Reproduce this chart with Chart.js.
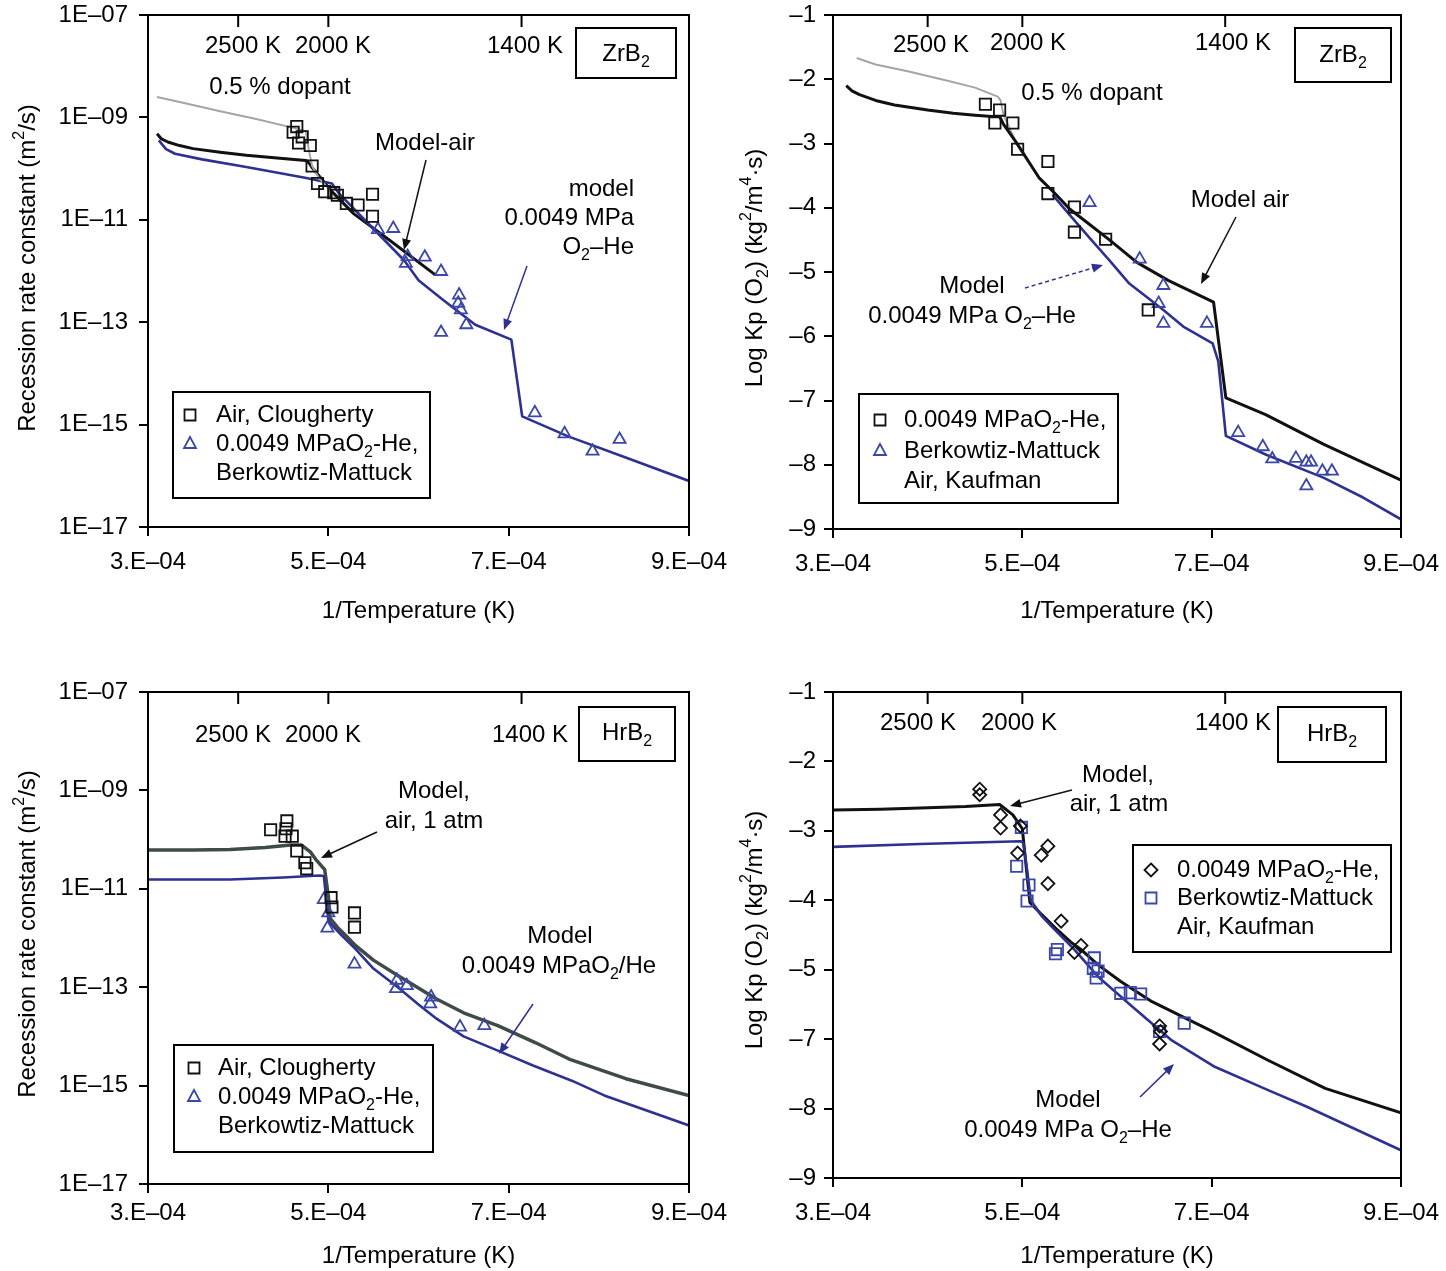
<!DOCTYPE html>
<html>
<head>
<meta charset="utf-8">
<script src="https://cdn.jsdelivr.net/npm/chart.js@4.4.1/dist/chart.umd.min.js"></script>
<style>
  body { margin: 0; background: #fff; width: 1446px; height: 1271px; position: relative; overflow: hidden; }
  canvas { position: absolute; }
</style>
</head>
<body>
<canvas id="tl" width="760" height="640" style="left:0;top:0;width:760px;height:640px"></canvas>
<canvas id="bl" width="760" height="631" style="left:0;top:640px;width:760px;height:631px"></canvas>
<canvas id="tr" width="723" height="640" style="left:723px;top:0;width:723px;height:640px"></canvas>
<canvas id="br" width="723" height="631" style="left:723px;top:640px;width:723px;height:631px"></canvas>
<script>
// x values are 1/T in units of 1e-4 1/K
const xTicks = [3, 5, 7, 9];
const tempMarks = [2500, 2000, 1400];
const logTicks = [-17, -15, -13, -11, -9, -7];
const kpTicksTop = [-9, -8, -7, -6, -5, -4, -3, -2, -1];
// the lower Kp axis is printed without "-6": eight evenly spaced labels
const kpTicksBottom = [-1, -2, -3, -4, -5, -6, -7, -8];
const kpLabelsBottom = ['–1', '–2', '–3', '–4', '–5', '–7', '–8', '–9'];

// ZrB2 recession rate (log10 m2/s)
const zrRateAirX = [3.10, 3.15, 3.22, 3.35, 3.50, 3.80, 4.09, 4.40, 4.75, 4.79, 4.82, 5.04, 5.28, 5.68, 6.19];
const zrRateAirLog = [-9.32, -9.42, -9.48, -9.55, -9.61, -9.68, -9.74, -9.79, -9.84, -9.90, -9.98, -10.45, -10.88, -11.40, -12.08];
const zrRateDopX = [3.10, 3.40, 3.80, 4.20, 4.60, 4.75, 4.78, 4.82, 4.90, 5.04];
const zrRateDopLog = [-8.60, -8.72, -8.88, -9.03, -9.20, -9.27, -9.60, -9.95, -10.20, -10.45];
const zrRateHeX = [3.12, 3.20, 3.30, 3.60, 4.09, 4.50, 4.77, 5.04, 5.12, 5.48, 5.84, 6.00, 6.27, 6.63, 7.03, 7.15, 7.66, 8.26, 9.00];
const zrRateHeLog = [-9.45, -9.62, -9.71, -9.82, -9.97, -10.10, -10.19, -10.29, -10.49, -11.14, -11.79, -12.18, -12.56, -13.05, -13.34, -14.84, -15.23, -15.62, -16.10];
const zrRateCloughX = [4.65, 4.61, 4.71, 4.67, 4.80, 4.82, 4.88, 4.96, 5.06, 5.10, 5.20, 5.33, 5.49, 5.49];
const zrRateCloughLog = [-9.18, -9.29, -9.38, -9.50, -9.55, -9.95, -10.29, -10.45, -10.47, -10.52, -10.68, -10.71, -10.50, -10.93];
const zrRateBmX = [5.55, 5.72, 5.88, 5.86, 6.07, 6.25, 6.45, 6.44, 6.47, 6.53, 6.25, 7.29, 7.62, 7.93, 8.23];
const zrRateBmLog = [-11.19, -11.17, -11.72, -11.85, -11.73, -12.01, -12.47, -12.63, -12.76, -13.05, -13.20, -14.77, -15.18, -15.52, -15.29];

// ZrB2 log Kp
const zrKpAirX = [3.14, 3.20, 3.28, 3.45, 3.65, 4.00, 4.27, 4.50, 4.68, 4.76, 4.80, 4.93, 5.18, 5.34, 5.50, 5.65, 5.92, 6.21, 6.54, 7.02, 7.15, 7.57, 8.18, 9.00];
const zrKpAirY = [-2.10, -2.18, -2.24, -2.33, -2.40, -2.48, -2.53, -2.56, -2.58, -2.58, -2.70, -2.97, -3.54, -3.77, -4.02, -4.19, -4.50, -4.85, -5.13, -5.47, -6.96, -7.22, -7.68, -8.24];
const zrKpDopX = [3.25, 3.45, 3.80, 4.20, 4.50, 4.74, 4.77, 4.80, 4.93, 5.18, 5.34];
const zrKpDopY = [-1.67, -1.77, -1.88, -2.02, -2.13, -2.27, -2.33, -2.55, -2.97, -3.54, -3.77];
const zrKpHeX = [5.32, 5.50, 5.71, 5.92, 6.13, 6.49, 6.70, 7.01, 7.07, 7.15, 7.57, 8.18, 8.60, 9.00];
const zrKpHeY = [-3.80, -4.11, -4.47, -4.82, -5.18, -5.59, -5.85, -6.11, -6.39, -7.55, -7.84, -8.20, -8.51, -8.85];
const zrKpSqX = [4.61, 4.76, 4.71, 4.90, 4.95, 5.27, 5.27, 5.55, 5.55, 5.88, 6.33];
const zrKpSqY = [-2.39, -2.48, -2.68, -2.68, -3.09, -3.28, -3.78, -3.99, -4.38, -4.49, -5.59];
const zrKpTriX = [5.71, 6.24, 6.49, 6.44, 6.49, 6.95, 7.28, 7.54, 7.64, 7.89, 8.00, 8.05, 8.00, 8.17, 8.27];
const zrKpTriY = [-3.92, -4.80, -5.21, -5.49, -5.80, -5.80, -7.50, -7.72, -7.91, -7.90, -7.96, -7.96, -8.33, -8.10, -8.10];

// HfB2 recession rate (log10 m2/s)
const hfRateAirX = [3.00, 3.50, 3.91, 4.30, 4.58, 4.70, 4.80, 4.86, 4.96, 5.00, 5.02, 5.10, 5.21, 5.30, 5.50, 5.77, 6.20, 6.50, 6.88, 7.30, 7.67, 8.30, 9.00];
const hfRateAirLog = [-10.21, -10.21, -10.20, -10.16, -10.11, -10.11, -10.25, -10.40, -10.61, -11.15, -11.60, -11.78, -11.98, -12.15, -12.45, -12.76, -13.24, -13.52, -13.78, -14.13, -14.46, -14.86, -15.20];
const hfRateHeX = [3.00, 3.91, 4.50, 4.90, 4.95, 4.97, 5.00, 5.02, 5.15, 5.30, 5.50, 5.77, 6.00, 6.20, 6.50, 6.88, 7.27, 7.70, 8.06, 9.00];
const hfRateHeLog = [-10.81, -10.81, -10.77, -10.73, -10.74, -11.08, -11.63, -11.70, -11.95, -12.22, -12.62, -13.00, -13.35, -13.64, -14.00, -14.29, -14.59, -14.90, -15.20, -15.81];
const hfRateCloughX = [4.36, 4.54, 4.53, 4.52, 4.60, 4.65, 4.74, 4.76, 5.03, 5.04, 5.29, 5.29];
const hfRateCloughLog = [-9.80, -9.62, -9.78, -9.93, -9.93, -10.23, -10.47, -10.59, -11.18, -11.37, -11.49, -11.78];
const hfRateBmX = [4.95, 5.00, 4.99, 5.29, 5.76, 5.75, 5.87, 6.14, 6.13, 6.46, 6.73];
const hfRateBmLog = [-11.22, -11.49, -11.80, -12.53, -12.86, -13.03, -12.97, -13.20, -13.34, -13.81, -13.78];

// HfB2 log Kp (positions on the printed axis)
const hfKpAirX = [3.00, 3.50, 3.92, 4.40, 4.76, 4.90, 5.00, 5.04, 5.08, 5.20, 5.35, 5.51, 5.63, 5.80, 6.04, 6.37, 6.98, 7.59, 8.20, 9.00];
const hfKpAirY = [-2.70, -2.69, -2.67, -2.65, -2.62, -2.77, -2.97, -3.51, -4.03, -4.20, -4.40, -4.60, -4.72, -4.93, -5.17, -5.46, -5.87, -6.30, -6.71, -7.06];
const hfKpHeX = [3.00, 3.92, 4.98, 5.01, 5.05, 5.09, 5.20, 5.31, 5.55, 5.80, 6.16, 6.57, 7.02, 7.59, 8.00, 9.00];
const hfKpHeY = [-3.23, -3.19, -3.15, -3.17, -3.56, -4.00, -4.22, -4.38, -4.71, -5.10, -5.53, -6.01, -6.39, -6.73, -6.97, -7.60];
const hfKpDiaX = [4.55, 4.55, 4.77, 4.77, 4.98, 4.95, 5.20, 5.27, 5.27, 5.41, 5.62, 5.55, 6.45, 6.46, 6.45];
const hfKpDiaY = [-2.40, -2.48, -2.77, -2.96, -2.93, -3.32, -3.35, -3.22, -3.76, -4.30, -4.65, -4.75, -5.81, -5.89, -6.07];
const hfKpSqX = [4.99, 4.94, 5.07, 5.05, 5.37, 5.35, 5.76, 5.75, 5.80, 5.78, 6.04, 6.14, 6.25, 6.45, 6.71];
const hfKpSqY = [-2.95, -3.51, -3.78, -4.01, -4.71, -4.77, -4.83, -4.98, -5.02, -5.12, -5.34, -5.33, -5.35, -5.89, -5.77];

const FONT = '"Liberation Sans", Arial, Helvetica, sans-serif';
const BLACK = '#111111';
const BLUE = '#2d3190';
const BLUE_MK = '#3b47a8';
const GRAY = '#a5a5a5';
const SLATE = '#3f4b47';

const logPts = (xs, es) => xs.map((x, i) => ({ x: x, y: Math.pow(10, es[i]) }));
const linPts = (xs, ys) => xs.map((x, i) => ({ x: x, y: ys[i] }));
const line = (data, color, width) => ({
  data, showLine: true, borderColor: color, borderWidth: width, pointRadius: 0,
  fill: false, tension: 0, borderJoinStyle: 'round', order: 2
});
const marks = (data, style, color, r) => ({
  data, showLine: false, pointStyle: style, pointRadius: r, pointHoverRadius: r,
  pointBorderColor: color, pointBackgroundColor: 'rgba(0,0,0,0)', pointBorderWidth: 1.8, order: 1
});

function drawRich(ctx, str, x, y, align, color, size) {
  size = size || 24;
  const sm = Math.round(size * 0.68);
  const seg = str.split(/([_^]\{[^}]*\})/).filter(s => s.length).map(p => {
    if (p.startsWith('_{')) return { t: p.slice(2, -1), f: sm, dy: size * 0.36 };
    if (p.startsWith('^{')) return { t: p.slice(2, -1), f: sm, dy: -size * 0.36 };
    return { t: p, f: size, dy: 0 };
  });
  let w = 0;
  seg.forEach(s => { ctx.font = s.f + 'px ' + FONT; s.w = ctx.measureText(s.t).width; w += s.w; });
  let cx = align === 'center' ? x - w / 2 : align === 'right' ? x - w : x;
  ctx.fillStyle = color || '#000';
  ctx.textAlign = 'left';
  ctx.textBaseline = 'middle';
  seg.forEach(s => { ctx.font = s.f + 'px ' + FONT; ctx.fillText(s.t, cx, y + s.dy); cx += s.w; });
}

function drawArrow(ctx, a, color, dash) {
  const [x0, y0, x1, y1] = a;
  const ang = Math.atan2(y1 - y0, x1 - x0), L = 11, W = 4.5;
  ctx.strokeStyle = color; ctx.fillStyle = color; ctx.lineWidth = 1.5;
  ctx.setLineDash(dash || []);
  ctx.beginPath();
  ctx.moveTo(x0, y0);
  ctx.lineTo(x1 - 0.8 * L * Math.cos(ang), y1 - 0.8 * L * Math.sin(ang));
  ctx.stroke();
  ctx.setLineDash([]);
  ctx.beginPath();
  ctx.moveTo(x1, y1);
  ctx.lineTo(x1 - L * Math.cos(ang) + W * Math.sin(ang), y1 - L * Math.sin(ang) - W * Math.cos(ang));
  ctx.lineTo(x1 - L * Math.cos(ang) - W * Math.sin(ang), y1 - L * Math.sin(ang) + W * Math.cos(ang));
  ctx.closePath();
  ctx.fill();
}

function drawMarker(ctx, style, color, x, y) {
  ctx.strokeStyle = color; ctx.lineWidth = 1.8;
  ctx.beginPath();
  if (style === 'rect') ctx.rect(x - 5.5, y - 5.5, 11, 11);
  if (style === 'triangle') { ctx.moveTo(x, y - 7); ctx.lineTo(x + 6, y + 4); ctx.lineTo(x - 6, y + 4); ctx.closePath(); }
  if (style === 'rectRot') { ctx.moveTo(x, y - 6.5); ctx.lineTo(x + 6.5, y); ctx.lineTo(x, y + 6.5); ctx.lineTo(x - 6.5, y); ctx.closePath(); }
  ctx.stroke();
}

// decorations in page pixels, shifted into each canvas
function decor(spec) {
  return {
    id: 'decor',
    afterDraw(chart) {
      const ctx = chart.ctx, ca = chart.chartArea, ox = spec.ox, oy = spec.oy;
      ctx.save();
      ctx.strokeStyle = '#000'; ctx.lineWidth = 2;
      ctx.strokeRect(ca.left, ca.top, ca.right - ca.left, ca.bottom - ca.top);
      tempMarks.forEach(T => {
        const px = chart.scales.x.getPixelForValue(1e4 / T);
        ctx.beginPath(); ctx.moveTo(px, ca.top); ctx.lineTo(px, ca.top + 12); ctx.stroke();
      });
      spec.boxes.forEach(b => {
        ctx.strokeStyle = '#000'; ctx.lineWidth = 2;
        ctx.strokeRect(b[0] - ox, b[1] - oy, b[2] - b[0], b[3] - b[1]);
      });
      spec.texts.forEach(t => drawRich(ctx, t[0], t[1] - ox, t[2] - oy, t[3] || 'center', '#000'));
      spec.arrows.forEach(a => drawArrow(ctx, [a[0] - ox, a[1] - oy, a[2] - ox, a[3] - oy], a[4] || BLACK, a[5]));
      const lg = spec.legend;
      ctx.strokeStyle = '#000'; ctx.lineWidth = 2;
      ctx.strokeRect(lg.box[0] - ox, lg.box[1] - oy, lg.box[2] - lg.box[0], lg.box[3] - lg.box[1]);
      lg.rows.forEach((r, i) => {
        const yy = lg.ys[i] - oy;
        if (r[0]) drawMarker(ctx, r[0], r[1], lg.mx - ox, yy);
        drawRich(ctx, r[2], lg.tx - ox, yy, 'left', '#000');
      });
      ctx.save();
      ctx.translate(spec.ytitle[1] - ox, spec.ytitle[2] - oy);
      ctx.rotate(-Math.PI / 2);
      drawRich(ctx, spec.ytitle[0], 0, 0, 'center', '#000');
      ctx.restore();
      ctx.restore();
    }
  };
}

const tickFont = { size: 24, family: FONT };
const gridOpts = { display: true, drawOnChartArea: false, drawTicks: true, tickLength: 9, color: '#000', lineWidth: 2 };
const borderOpts = { display: true, color: '#000', width: 2 };

function logAxis(w, pad) {
  return {
    type: 'logarithmic', min: 1e-17, max: 1e-7,
    afterBuildTicks: s => { s.ticks = logTicks.map(e => ({ value: Math.pow(10, e) })); },
    afterFit: s => { s.width = w; s.paddingTop = 0; s.paddingBottom = 0; },
    ticks: { font: tickFont, color: '#000', padding: pad, autoSkip: false,
      callback: v => '1E–' + String(Math.round(-Math.log10(v))).padStart(2, '0') },
    grid: gridOpts, border: borderOpts
  };
}
function kpAxis(w, pad, ticks, labels, min) {
  return {
    type: 'linear', min: min, max: -1,
    afterBuildTicks: s => { s.ticks = ticks.map(v => ({ value: v })); },
    afterFit: s => { s.width = w; s.paddingTop = 0; s.paddingBottom = 0; },
    ticks: { font: tickFont, color: '#000', padding: pad, autoSkip: false,
      callback: v => labels ? labels[ticks.indexOf(v)] : '–' + (-v) },
    grid: gridOpts, border: borderOpts
  };
}

function panel(id, spec) {
  new Chart(document.getElementById(id), {
    type: 'scatter',
    data: { datasets: spec.datasets },
    options: {
      responsive: false, animation: false, devicePixelRatio: 1,
      layout: { padding: { top: spec.padTop, right: spec.padRight, left: 0, bottom: 0 } },
      plugins: { legend: { display: false }, tooltip: { enabled: false } },
      scales: {
        x: {
          type: 'linear', min: 3, max: 9,
          afterBuildTicks: s => { s.ticks = xTicks.map(v => ({ value: v })); },
          afterFit: s => { s.height = spec.xh; s.paddingLeft = 0; s.paddingRight = 0; },
          ticks: { font: tickFont, color: '#000', padding: spec.xpad, maxRotation: 0, autoSkip: false,
            callback: v => v + '.E–04' },
          grid: gridOpts, border: borderOpts,
          title: { display: true, text: '1/Temperature (K)', font: tickFont, color: '#000',
            padding: { top: 0, bottom: spec.tpad } }
        },
        y: spec.y
      }
    },
    plugins: [decor(spec)]
  });
}

const rateTitle = 'Recession rate constant (m^{2}/s)';
const kpTitle = 'Log Kp (O_{2}) (kg^{2}/m^{4}·s)';

panel('tl', {
  ox: 0, oy: 0, padTop: 15, padRight: 71, xh: 113, xpad: 12, tpad: 14,
  y: logAxis(148, 11),
  datasets: [
    line(logPts(zrRateDopX, zrRateDopLog), GRAY, 2),
    line(logPts(zrRateHeX, zrRateHeLog), BLUE, 2.6),
    line(logPts(zrRateAirX, zrRateAirLog), BLACK, 3),
    marks(logPts(zrRateCloughX, zrRateCloughLog), 'rect', BLACK, 8),
    marks(logPts(zrRateBmX, zrRateBmLog), 'triangle', BLUE_MK, 7)
  ],
  texts: [['2500 K', 243, 46], ['2000 K', 333, 46], ['1400 K', 525, 46], ['ZrB_{2}', 626, 54],
    ['0.5 % dopant', 280, 87], ['Model-air', 425, 143],
    ['model', 634, 189, 'right'], ['0.0049 MPa', 634, 218, 'right'], ['O_{2}–He', 634, 247, 'right']],
  boxes: [[576, 28, 676, 78]],
  arrows: [[426, 160, 404, 250], [527, 266, 504, 330, BLUE]],
  legend: { box: [173, 392, 430, 498], ys: [415, 444, 473], mx: 190, tx: 216,
    rows: [['rect', BLACK, 'Air, Clougherty'], ['triangle', BLUE_MK, '0.0049 MPaO_{2}-He,'], [null, null, 'Berkowtiz-Mattuck']] },
  ytitle: [rateTitle, 28, 268]
});

panel('tr', {
  ox: 723, oy: 0, padTop: 15, padRight: 45, xh: 111, xpad: 12, tpad: 14,
  y: kpAxis(110, 8, kpTicksTop, null, -9),
  datasets: [
    line(linPts(zrKpAirX, zrKpAirY), BLACK, 3),
    line(linPts(zrKpHeX, zrKpHeY), BLUE, 2.6),
    line(linPts(zrKpDopX, zrKpDopY), GRAY, 2),
    marks(linPts(zrKpSqX, zrKpSqY), 'rect', BLACK, 8),
    marks(linPts(zrKpTriX, zrKpTriY), 'triangle', BLUE_MK, 7)
  ],
  texts: [['2500 K', 931, 45], ['2000 K', 1028, 43], ['1400 K', 1233, 43], ['ZrB_{2}', 1343, 55],
    ['0.5 % dopant', 1092, 93], ['Model air', 1240, 200],
    ['Model', 972, 286], ['0.0049 MPa O_{2}–He', 972, 316]],
  boxes: [[1295, 28, 1391, 82]],
  arrows: [[1236, 217, 1201, 284], [1025, 288, 1103, 265, BLUE, [4, 3]]],
  legend: { box: [859, 394, 1118, 503], ys: [420, 451, 481], mx: 880, tx: 904,
    rows: [['rect', BLACK, '0.0049 MPaO_{2}-He,'], ['triangle', BLUE_MK, 'Berkowtiz-Mattuck'], [null, null, 'Air, Kaufman']] },
  ytitle: [kpTitle, 755, 268]
});

panel('bl', {
  ox: 0, oy: 640, padTop: 52, padRight: 71, xh: 87, xpad: 6, tpad: 0,
  y: logAxis(148, 11),
  datasets: [
    line(logPts(hfRateHeX, hfRateHeLog), BLUE, 2.6),
    line(logPts(hfRateAirX, hfRateAirLog), SLATE, 3.5),
    marks(logPts(hfRateCloughX, hfRateCloughLog), 'rect', BLACK, 8),
    marks(logPts(hfRateBmX, hfRateBmLog), 'triangle', BLUE_MK, 7)
  ],
  texts: [['2500 K', 233, 735], ['2000 K', 323, 735], ['1400 K', 530, 735], ['HrB_{2}', 627, 733],
    ['Model,', 434, 791], ['air, 1 atm', 434, 821],
    ['Model', 560, 936], ['0.0049 MPaO_{2}/He', 559, 966]],
  boxes: [[579, 707, 675, 761]],
  arrows: [[377, 832, 321, 858], [533, 1004, 499, 1054, BLUE]],
  legend: { box: [174, 1045, 433, 1152], ys: [1068, 1097, 1126], mx: 194, tx: 218,
    rows: [['rect', BLACK, 'Air, Clougherty'], ['triangle', BLUE_MK, '0.0049 MPaO_{2}-He,'], [null, null, 'Berkowtiz-Mattuck']] },
  ytitle: [rateTitle, 28, 934]
});

panel('br', {
  ox: 723, oy: 640, padTop: 52, padRight: 45, xh: 93, xpad: 12, tpad: 0,
  y: kpAxis(110, 8, kpTicksBottom, kpLabelsBottom, -8),
  datasets: [
    line(linPts(hfKpHeX, hfKpHeY), BLUE, 2.6),
    line(linPts(hfKpAirX, hfKpAirY), BLACK, 3),
    marks(linPts(hfKpDiaX, hfKpDiaY), 'rectRot', BLACK, 6.5),
    marks(linPts(hfKpSqX, hfKpSqY), 'rect', BLUE_MK, 8)
  ],
  texts: [['2500 K', 918, 723], ['2000 K', 1019, 723], ['1400 K', 1233, 723], ['HrB_{2}', 1332, 734],
    ['Model,', 1118, 775], ['air, 1 atm', 1119, 804],
    ['Model', 1068, 1100], ['0.0049 MPa O_{2}–He', 1068, 1130]],
  boxes: [[1278, 707, 1386, 762]],
  arrows: [[1072, 790, 1010, 806], [1140, 1097, 1174, 1064, BLUE]],
  legend: { box: [1133, 845, 1391, 952], ys: [870, 898, 927], mx: 1151, tx: 1177,
    rows: [['rectRot', BLACK, '0.0049 MPaO_{2}-He,'], ['rect', BLUE_MK, 'Berkowtiz-Mattuck'], [null, null, 'Air, Kaufman']] },
  ytitle: [kpTitle, 755, 930]
});
</script>
</body>
</html>
